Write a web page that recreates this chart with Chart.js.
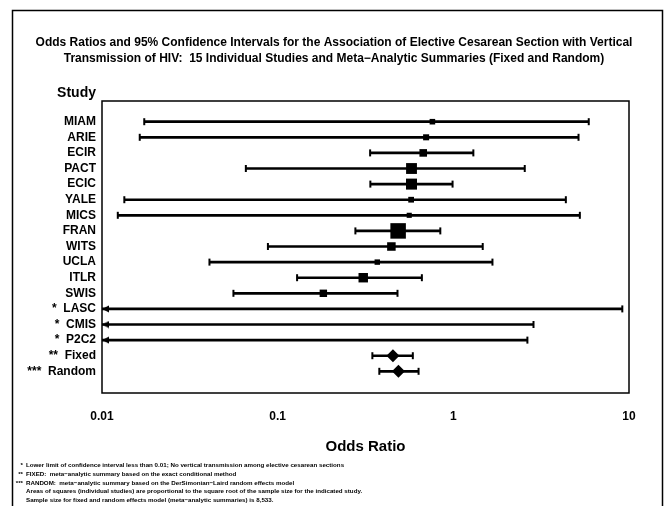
<!DOCTYPE html>
<html>
<head>
<meta charset="utf-8">
<script src="https://cdn.jsdelivr.net/npm/chart.js@4.4.0/dist/chart.umd.min.js"></script>
<style>
  html, body { margin: 0; padding: 0; background: #fff; }
</style>
</head>
<body>
<canvas id="forest" width="665" height="506"></canvas>
<script>
// Studies, top to bottom (prefix marks refer to the footnotes)
const studyLabels = ['MIAM', 'ARIE', 'ECIR', 'PACT', 'ECIC', 'YALE', 'MICS', 'FRAN', 'WITS',
  'UCLA', 'ITLR', 'SWIS', '*  LASC', '*  CMIS', '*  P2C2', '**  Fixed', '***  Random'];

// Odds ratio point estimates (null = not estimable)
const oddsRatio = [0.76, 0.70, 0.674, 0.578, 0.578, 0.575, 0.561, 0.485, 0.444,
  0.369, 0.307, 0.182, null, null, null, 0.453, 0.487];

// 95% CI limits (lower null = below 0.01)
const lowerCI = [0.0174, 0.0164, 0.336, 0.0659, 0.337, 0.0134, 0.0123, 0.277, 0.088,
  0.0409, 0.129, 0.056, null, null, null, 0.346, 0.379];
const upperCI = [5.9, 5.16, 1.30, 2.55, 0.99, 4.37, 5.25, 0.843, 1.47,
  1.67, 0.662, 0.481, 9.16, 2.86, 2.64, 0.588, 0.634];

// relative square-root sample size of each individual study (box area)
const relWeight = [0.36, 0.39, 0.49, 0.70, 0.71, 0.37, 0.33, 1.0, 0.55, 0.35, 0.61, 0.48];

// summary rows drawn as diamonds
const summaryRows = [15, 16];

const xTicks = [0.01, 0.1, 1, 10];
const X_MIN = 0.01, X_MAX = 10;

const titleLines = [
  'Odds Ratios and 95% Confidence Intervals for the Association of Elective Cesarean Section with Vertical',
  'Transmission of HIV:  15 Individual Studies and Meta\u2212Analytic Summaries (Fixed and Random)'
];

const footnotes = [
  ['*', 'Lower limit of confidence interval less than 0.01; No vertical transmission among elective cesarean sections'],
  ['**', 'FIXED:  meta\u2212analytic summary based on the exact conditional method'],
  ['***', 'RANDOM:  meta\u2212analytic summary based on the DerSimonian\u2212Laird random effects model'],
  ['', 'Areas of squares (individual studies) are proportional to the square root of the sample size for the indicated study.'],
  ['', 'Sample size for fixed and random effects model (meta\u2212analytic summaries) is 8,533.']
];

// build datasets
const whiskers = [], caps = [], boxes = [], diamonds = [], arrows = [];
studyLabels.forEach((_, i) => {
  const lo = lowerCI[i] === null ? X_MIN : lowerCI[i];
  whiskers.push({ x: [lo, upperCI[i]], y: i });
  if (lowerCI[i] !== null) caps.push({ x: lowerCI[i], y: i });
  else arrows.push({ x: X_MIN, y: i });
  caps.push({ x: upperCI[i], y: i });
  if (oddsRatio[i] !== null) {
    if (summaryRows.includes(i)) diamonds.push({ x: oddsRatio[i], y: i });
    else boxes.push({ x: oddsRatio[i], y: i, w: relWeight[i] });
  }
});

// left-pointing arrowhead whose tip sits at the point centre
const arrowImg = document.createElement('canvas');
arrowImg.width = 16; arrowImg.height = 8;
(function () {
  const c = arrowImg.getContext('2d');
  c.fillStyle = '#000';
  c.beginPath();
  c.moveTo(8, 4); c.lineTo(15, 0.5); c.lineTo(15, 7.5);
  c.closePath(); c.fill();
})();

const framePlugin = {
  id: 'frame',
  afterDraw(chart) {
    const { ctx, chartArea: a } = chart;
    ctx.save();
    ctx.strokeStyle = '#000';
    ctx.lineWidth = 1.5;
    // outer box
    ctx.beginPath();
    ctx.moveTo(12.5, 510); ctx.lineTo(12.5, 10.5); ctx.lineTo(662.5, 10.5); ctx.lineTo(662.5, 510);
    ctx.stroke();
    // plot box
    ctx.strokeRect(a.left, a.top, a.right - a.left, a.bottom - a.top);
    ctx.fillStyle = '#000';
    ctx.textBaseline = 'middle';
    // title
    ctx.font = 'bold 12px "Liberation Sans", Arial, sans-serif';
    ctx.textAlign = 'center';
    titleLines.forEach((t, k) => ctx.fillText(t, 334, 43 + k * 16));
    ctx.font = 'bold 14px "Liberation Sans", Arial, sans-serif';
    ctx.textAlign = 'right';
    ctx.fillText('Study', a.left - 6, 93);
    // footnotes
    ctx.font = 'bold 6.2px "Liberation Sans", Arial, sans-serif';
    footnotes.forEach((f, k) => {
      const y = 465 + k * 8.9;
      ctx.textAlign = 'right';
      ctx.fillText(f[0], 23, y);
      ctx.textAlign = 'left';
      ctx.fillText(f[1], 26, y);
    });
    ctx.restore();
  }
};

Chart.defaults.font.family = '"Liberation Sans", Arial, sans-serif';
Chart.defaults.color = '#000';

new Chart(document.getElementById('forest'), {
  type: 'scatter',
  data: {
    datasets: [
      {
        type: 'bar',
        indexAxis: 'y',
        data: whiskers,
        backgroundColor: '#000',
        borderWidth: 0,
        barThickness: 2,
        grouped: false
      },
      {
        data: caps,
        pointStyle: 'line',
        rotation: 90,
        pointRadius: 3.5,
        borderColor: '#000',
        pointBorderWidth: 2,
        clip: false
      },
      {
        data: boxes,
        pointStyle: 'rect',
        pointRadius: (c) => c.raw ? c.raw.w * 15.5 / Math.SQRT2 : 0,
        backgroundColor: '#000',
        borderColor: '#000',
        pointBorderWidth: 0
      },
      {
        data: diamonds,
        pointStyle: 'rectRot',
        pointRadius: 6.5,
        backgroundColor: '#000',
        borderColor: '#000',
        pointBorderWidth: 0
      },
      {
        data: arrows,
        pointStyle: arrowImg,
        clip: false
      }
    ]
  },
  options: {
    responsive: false,
    animation: false,
    events: [],
    layout: { padding: { left: 0, right: 36, top: 101, bottom: 0 } },
    scales: {
      x: {
        type: 'logarithmic',
        min: X_MIN,
        max: X_MAX,
        offset: false,
        grid: { display: false, drawTicks: false, offset: false },
        border: { display: false },
        afterBuildTicks: (s) => { s.ticks = xTicks.map(v => ({ value: v })); },
        afterFit: (s) => { s.height = 113; },
        ticks: {
          font: { size: 12, weight: 'bold' },
          padding: 16,
          maxRotation: 0,
          autoSkip: false,
          callback: (v) => String(v)
        },
        title: {
          display: true,
          text: 'Odds Ratio',
          font: { size: 15, weight: 'bold' },
          padding: { top: 0, bottom: 50 }
        }
      },
      y: {
        type: 'linear',
        reverse: true,
        bounds: 'data',
        offset: false,
        min: -1.327,
        max: 17.39,
        grid: { display: false, drawTicks: false, offset: false },
        border: { display: false },
        afterBuildTicks: (s) => { s.ticks = studyLabels.map((_, i) => ({ value: i })); },
        afterFit: (s) => { s.width = 102; },
        ticks: {
          font: { size: 12, weight: 'bold' },
          padding: 6,
          autoSkip: false,
          callback: (v) => studyLabels[v] ?? ''
        }
      }
    },
    plugins: {
      legend: { display: false },
      tooltip: { enabled: false },
      title: { display: false }
    }
  },
  plugins: [framePlugin]
});
</script>
</body>
</html>
